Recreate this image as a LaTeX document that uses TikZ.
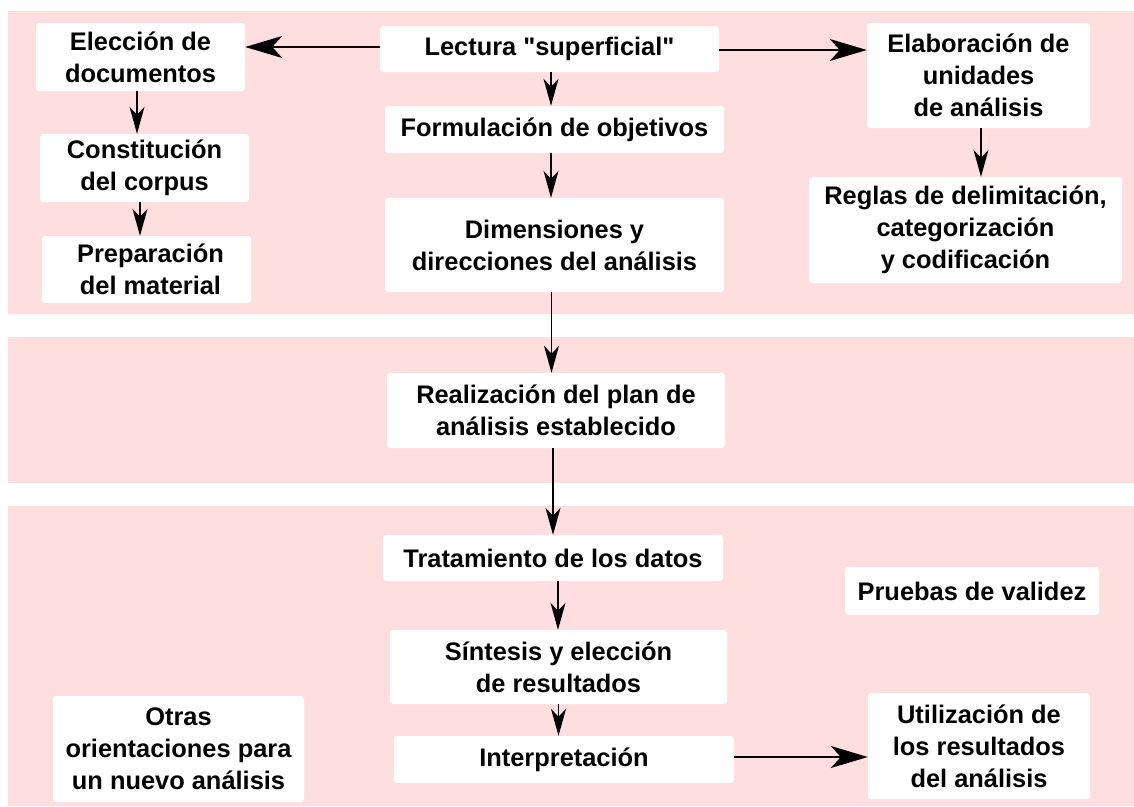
\documentclass[tikz,border=0pt]{standalone}
\usepackage{fontspec}
\setmainfont{Liberation Sans}
\usetikzlibrary{arrows.meta}
\definecolor{bandpink}{RGB}{255,222,224}
\begin{document}
\begin{tikzpicture}[x=1pt,y=-1pt,
  box/.style={fill=white, rounded corners=3pt, inner sep=0pt, align=center,
    font=\bfseries\fontsize{25.4}{32}\selectfont},
  arrh/.style={-{Stealth[length=37pt,width=22pt,inset=10pt]}, line width=1.8pt},
  arrv/.style={-{Stealth[length=27pt,width=15pt,inset=8pt]}, line width=1.4pt}]
\useasboundingbox (0,0) rectangle (1134,806);
% bands
\fill[bandpink] (8,11) rectangle (1134,314);
\fill[bandpink] (8,337) rectangle (1134,483);
\fill[bandpink] (8,506) rectangle (1134,806);
% top band
\node[box, minimum width=209pt, minimum height=68pt] (elec) at (140.5,57) {Elección de\\documentos};
\node[box, minimum width=209pt, minimum height=68pt] (const) at (144.5,168) {Constitución\\del corpus};
\node[box, minimum width=209pt, minimum height=67pt] (prep) at (146.5,269.5) {\hspace*{8pt}Preparación\\\hspace*{8pt}del material};
\node[box, minimum width=339pt, minimum height=46pt] (lect) at (549.5,49) {Lectura \textquotedbl superficial\textquotedbl};
\node[box, minimum width=339pt, minimum height=47pt] (form) at (554.5,129.5) {Formulación de objetivos};
\node[box, minimum width=339pt, minimum height=94pt] (dim) at (554.5,245) {Dimensiones y\\direcciones del análisis};
\node[box, minimum width=223pt, minimum height=105pt] (elab) at (978.5,75.5) {Elaboración de\\unidades\\de análisis};
\node[box, minimum width=313pt, minimum height=106pt] (regl) at (965.5,230) {Reglas de delimitación,\\categorización\\y codificación};
% middle band
\node[box, minimum width=338pt, minimum height=75pt] (real) at (556,410.5) {Realización del plan de\\análisis establecido};
% bottom band
\node[box, minimum width=340pt, minimum height=46pt] (trat) at (553,558) {Tratamiento de los datos};
\node[box, minimum width=254pt, minimum height=48pt] (prue) at (972,591) {Pruebas de validez};
\node[box, minimum width=337pt, minimum height=74pt] (sint) at (558.5,667) {Síntesis y elección\\de resultados};
\node[box, minimum width=340pt, minimum height=47pt] (interp) at (564,759.5) {Interpretación};
\node[box, minimum width=251pt, minimum height=106pt] (otras) at (178.5,749) {Otras\\orientaciones para\\un nuevo análisis};
\node[box, minimum width=222pt, minimum height=106pt] (util) at (979,746) {Utilización de\\los resultados\\del análisis};
% connectors
\draw[arrh] ([yshift=2pt]lect.west) -- ([yshift=2pt]lect.west -| elec.east);
\draw[arrh] ([yshift=-1pt]lect.east) -- ([yshift=-1pt]lect.east -| elab.west);
\draw[arrv] ([xshift=-3.5pt]elec.south) -- ([xshift=-3.5pt]elec.south |- const.north);
\draw[arrv] ([xshift=-4.5pt]const.south) -- ([xshift=-4.5pt]const.south |- prep.north);
\draw[arrv] ([xshift=1.5pt]lect.south) -- ([xshift=1.5pt]lect.south |- form.north);
\draw[arrv] ([xshift=-3.5pt]form.south) -- ([xshift=-3.5pt]form.south |- dim.north);
\draw[arrv] ([xshift=2.5pt]elab.south) -- ([xshift=2.5pt]elab.south |- regl.north);
\draw[arrv] ([xshift=-3pt]dim.south) -- ([xshift=-3pt]dim.south |- real.north);
\draw[arrv] ([xshift=-3pt]real.south) -- ([xshift=-3pt]real.south |- trat.north);
\draw[arrv] ([xshift=5pt]trat.south) -- ([xshift=5pt]trat.south |- sint.north);
\draw[arrv] (sint.south) -- (sint.south |- interp.north);
\draw[arrh, line width=2.6pt] ([yshift=2.5pt]interp.east) -- ([yshift=2.5pt]interp.east -| util.west);
\end{tikzpicture}
\end{document}
